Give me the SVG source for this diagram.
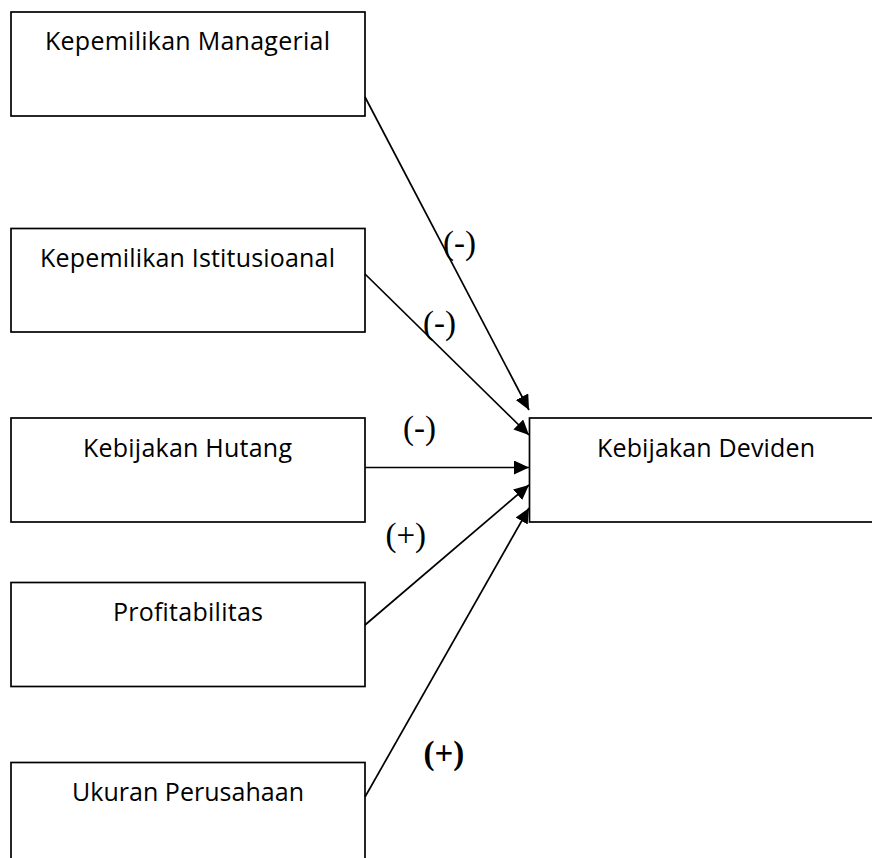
<svg xmlns="http://www.w3.org/2000/svg" width="872" height="858" viewBox="0 0 872 858">
<style>
.box{fill:#fff;stroke:#000;stroke-width:1.7}
.lbl{font-family:"Open Sans","Liberation Sans",sans-serif;font-size:25px;fill:#000}
.sign{font-family:"Liberation Serif","Times New Roman",serif;font-size:33px;fill:#000}
.conn{stroke:#000;stroke-width:1.7;fill:none;marker-end:url(#arr)}
</style>
<defs>
<marker id="arr" markerUnits="userSpaceOnUse" markerWidth="16" markerHeight="15" refX="15" refY="7" orient="auto">
<path d="M0,0 L15,7 L0,14 Z" fill="#000"/>
</marker>
</defs>
<rect width="872" height="858" fill="#fff"/>
<g id="node-managerial">
<rect class="box" x="11" y="12" width="354" height="104"/>
<text class="lbl" x="45" y="50" textLength="285">Kepemilikan Managerial</text>
</g>
<g id="node-institusional">
<rect class="box" x="11" y="228.5" width="354" height="103.5"/>
<text class="lbl" x="40" y="266.5" textLength="295">Kepemilikan Istitusioanal</text>
</g>
<g id="node-hutang">
<rect class="box" x="11" y="418" width="354" height="104"/>
<text class="lbl" x="83" y="457" textLength="209">Kebijakan Hutang</text>
</g>
<g id="node-profitabilitas">
<rect class="box" x="11" y="582.5" width="354" height="104"/>
<text class="lbl" x="113" y="620.5" textLength="150">Profitabilitas</text>
</g>
<g id="node-ukuran">
<rect class="box" x="11" y="762.5" width="354" height="120"/>
<text class="lbl" x="72" y="801" textLength="232">Ukuran Perusahaan</text>
</g>
<g id="node-deviden">
<rect class="box" x="529.5" y="418" width="360" height="104"/>
<text class="lbl" x="597" y="457" textLength="218">Kebijakan Deviden</text>
</g>
<g id="connectors">
<line class="conn" x1="365" y1="97" x2="529" y2="410"/>
<line class="conn" x1="365" y1="274" x2="529" y2="435"/>
<line class="conn" x1="365" y1="467.5" x2="529" y2="467.5"/>
<line class="conn" x1="365" y1="625" x2="529" y2="485"/>
<line class="conn" x1="365" y1="797" x2="529" y2="508"/>
<text class="sign" x="443" y="254">(-)</text>
<text class="sign" x="423" y="334">(-)</text>
<text class="sign" x="403" y="439">(-)</text>
<text class="sign" x="385.5" y="546">(+)</text>
<text class="sign" x="423.5" y="764" font-weight="bold" font-size="30">(+)</text>
</g>
</svg>
